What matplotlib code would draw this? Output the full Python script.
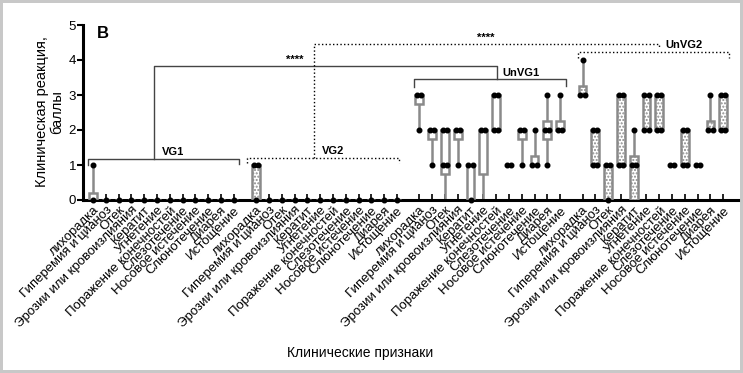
import matplotlib.pyplot as plt
import numpy as np

plt.rcParams['font.family'] = ['Liberation Sans', 'DejaVu Sans']

# clinical signs, repeated for each group
signs = ['лихорадка', 'Гиперемия и цианоз', 'Отек', 'Эрозии или кровоизлияния',
         'Кератит', 'Угнетение', 'Поражение конечностей', 'Слезотечение',
         'Носовое истечение', 'Слюнотечение', 'Диарея', 'Истощение']
groups = ['VG1', 'VG2', 'UnVG1', 'UnVG2']

# box stats per group: min, q1, median, q3, max (score, points)
vg1_min = [0, 0, 0, 0, 0, 0, 0, 0, 0, 0, 0, 0]
vg1_q1 = [0, 0, 0, 0, 0, 0, 0, 0, 0, 0, 0, 0]
vg1_med = [0, 0, 0, 0, 0, 0, 0, 0, 0, 0, 0, 0]
vg1_q3 = [0.2, 0, 0, 0, 0, 0, 0, 0, 0, 0, 0, 0]
vg1_max = [1, 0, 0, 0, 0, 0, 0, 0, 0, 0, 0, 0]

vg2_min = [0, 0, 0, 0, 0, 0, 0, 0, 0, 0, 0, 0]
vg2_q1 = [0, 0, 0, 0, 0, 0, 0, 0, 0, 0, 0, 0]
vg2_med = [0, 0, 0, 0, 0, 0, 0, 0, 0, 0, 0, 0]
vg2_q3 = [1, 0, 0, 0, 0, 0, 0, 0, 0, 0, 0, 0]
vg2_max = [1, 0, 0, 0, 0, 0, 0, 0, 0, 0, 0, 0]

unvg1_min = [2, 1, 0, 1, 0, 0, 2, 1, 1, 1, 1, 2]
unvg1_q1 = [2.75, 1.75, 0.75, 1.75, 0, 0.75, 2, 1, 1.75, 1, 1.75, 2]
unvg1_med = [3, 2, 1, 2, 0, 1.5, 3, 1, 2, 1, 2, 2]
unvg1_q3 = [3, 2, 2, 2, 1, 2, 3, 1, 2, 1.25, 2.25, 2.25]
unvg1_max = [3, 2, 2, 2, 1, 2, 3, 1, 2, 2, 3, 3]

unvg2_min = [3, 1, 0, 1, 0, 2, 2, 1, 1, 1, 2, 2]
unvg2_q1 = [3, 1, 0, 1, 0, 2, 2, 1, 1, 1, 2, 2]
unvg2_med = [3, 1, 0, 3, 1, 3, 3, 1, 2, 1, 2, 3]
unvg2_q3 = [3.25, 2, 1, 3, 1.25, 3, 3, 1, 2, 1, 2.25, 3]
unvg2_max = [4, 2, 1, 3, 2, 3, 3, 1, 2, 1, 3, 3]

all_stats = [
    (vg1_min, vg1_q1, vg1_med, vg1_q3, vg1_max),
    (vg2_min, vg2_q1, vg2_med, vg2_q3, vg2_max),
    (unvg1_min, unvg1_q1, unvg1_med, unvg1_q3, unvg1_max),
    (unvg2_min, unvg2_q1, unvg2_med, unvg2_q3, unvg2_max),
]
# stippled boxes for the second vaccine / control groups
stippled = [False, True, False, True]

group_step = 12.75
gray = '#8a8a8a'

fig = plt.figure(figsize=(7.43, 3.73), dpi=100)
ax = fig.add_axes([83/743, 1 - 200/373, 655/743, 175/373])

positions = []
for g, (mn, q1, md, q3, mx) in enumerate(all_stats):
    pos = [g*group_step + i for i in range(len(signs))]
    positions += pos
    stats = [dict(whislo=mn[i], q1=q1[i], med=md[i], q3=q3[i], whishi=mx[i],
                  fliers=[])
             for i in range(len(signs))]
    bp = ax.bxp(stats, positions=pos, widths=0.6, showcaps=False,
                showfliers=False, patch_artist=True, manage_ticks=False,
                boxprops=dict(facecolor='white', edgecolor=gray, linewidth=1.8),
                whiskerprops=dict(color=gray, linewidth=1.8),
                medianprops=dict(color=gray, linewidth=1.8))
    for i, box in enumerate(bp['boxes']):
        if stippled[g] and q3[i] > q1[i]:
            box.set_hatch('.....')
        box.set_zorder(3)
    # black dots at box edges and whisker ends
    for i, x in enumerate(pos):
        pair = []
        single = []
        for v in (q1[i], q3[i], md[i]):
            if float(v).is_integer() and v > 0:
                pair.append(v)
        if mn[i] < q1[i] and mn[i] > 0:
            single.append(mn[i])
        if mx[i] > q3[i]:
            single.append(mx[i])
        if q1[i] == 0 and md[i] == 0:
            single.append(0)
        pair = sorted(set(pair))
        ax.plot([x - 0.16]*len(pair) + [x + 0.16]*len(pair), pair*2, 'o',
                color='black', ms=3.3, zorder=4, clip_on=False)
        ax.plot([x]*len(single), single, 'o', color='black', ms=3.3,
                zorder=4, clip_on=False)

ax.set_xlim(-0.78, 50.4)
ax.set_ylim(0, 5)
ax.set_yticks([0, 1, 2, 3, 4, 5])
ax.set_xticks(positions)
ax.set_xticklabels(signs*len(groups), rotation=45, ha='right',
                   rotation_mode='anchor', fontsize=9.5)
ax.tick_params(axis='x', direction='in', length=4, width=1.2, pad=3)
ax.tick_params(axis='y', direction='out', length=4, width=1.5, labelsize=9.5, pad=1)
for s in ['top', 'right']:
    ax.spines[s].set_visible(False)
for s in ['left', 'bottom']:
    ax.spines[s].set_linewidth(2.2)

# significance brackets (solid: VG1 vs UnVG1)
lc = '#444444'
ax.plot([-0.4, -0.4, 11.4, 11.4], [1.0, 1.17, 1.17, 1.02], color=lc, lw=1, clip_on=False)
ax.plot([4.77, 4.77, 31.6, 31.6], [1.17, 3.84, 3.84, 3.46], color=lc, lw=1, clip_on=False)
ax.plot([25.1, 25.1, 36.95, 36.95], [3.24, 3.46, 3.46, 3.26], color=lc, lw=1, clip_on=False)
ax.text(5.4, 1.22, 'VG1', fontsize=8, fontweight='bold', ha='left', va='bottom')
ax.text(31.95, 3.5, 'UnVG1', fontsize=8, fontweight='bold', ha='left', va='bottom')
ax.text(15.8, 3.86, '****', fontsize=8, fontweight='bold', ha='center', va='bottom')

# dotted: VG2 vs UnVG2
ax.plot([12.0, 12.0, 23.9, 23.9], [1.05, 1.2, 1.2, 1.05], color='black', lw=1,
        ls=':', clip_on=False)
ax.plot([17.3, 17.3, 44.2, 44.2], [1.2, 4.46, 4.46, 4.36], color='black', lw=1,
        ls=':', clip_on=False)
ax.plot([37.9, 37.9, 49.7, 49.7], [4.05, 4.24, 4.24, 4.07], color='black', lw=1,
        ls=':', clip_on=False)
ax.text(17.9, 1.25, 'VG2', fontsize=8, fontweight='bold', ha='left', va='bottom')
ax.text(44.7, 4.42, 'UnVG2', fontsize=8, fontweight='bold', ha='left', va='center')
ax.text(30.7, 4.48, '****', fontsize=8, fontweight='bold', ha='center', va='bottom')

ax.text(0.3, 4.75, 'B', fontsize=12, fontweight='bold', ha='left', va='center')

fig.text(50/743, 1 - 112/373, 'Клиническая реакция,\nбаллы', rotation=90,
         ha='center', va='center', fontsize=10.5, linespacing=1.1)
fig.text(360/743, 1 - 353/373, 'Клинические признаки', ha='center', va='center',
         fontsize=10)

fig.patch.set_edgecolor('#c8c8c8')
fig.patch.set_linewidth(3)

fig.savefig('out.png', dpi=100, edgecolor=fig.get_edgecolor())
